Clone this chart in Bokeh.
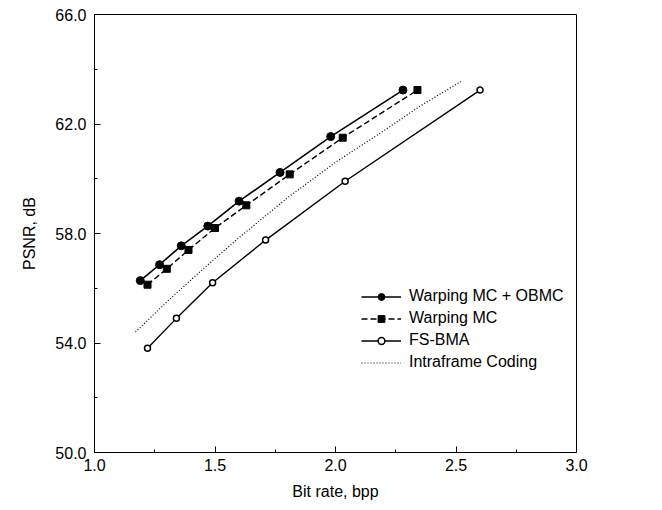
from bokeh.plotting import figure
from bokeh.models import FixedTicker, NumeralTickFormatter, Legend, LegendItem, Range1d
from bokeh.embed import file_html
from bokeh.resources import INLINE

# Data
obmc_x = [1.19, 1.27, 1.36, 1.47, 1.60, 1.77, 1.98, 2.28]
obmc_y = [56.28, 56.86, 57.55, 58.27, 59.18, 60.23, 61.54, 63.24]

wmc_x = [1.22, 1.30, 1.39, 1.50, 1.63, 1.81, 2.03, 2.34]
wmc_y = [56.13, 56.71, 57.40, 58.20, 59.03, 60.16, 61.50, 63.24]

fsbma_x = [1.22, 1.34, 1.49, 1.71, 2.04, 2.60]
fsbma_y = [53.81, 54.90, 56.20, 57.76, 59.91, 63.24]

intra_x = [1.17, 1.30, 1.45, 1.60, 1.80, 2.00, 2.20, 2.35, 2.52]
intra_y = [54.40, 55.50, 56.70, 57.85, 59.30, 60.60, 61.75, 62.65, 63.55]

x_ticks = [1.0, 1.5, 2.0, 2.5, 3.0]
x_minor = [1.25, 1.75, 2.25, 2.75]
y_ticks = [50.0, 54.0, 58.0, 62.0, 66.0]
y_minor = [52.0, 56.0, 60.0, 64.0]

labels = ["Warping MC + OBMC", "Warping MC", "FS-BMA", "Intraframe Coding"]

FONT = "Liberation Sans"

p = figure(width=646, height=502, output_backend="svg", toolbar_location=None,
           x_range=Range1d(1.0, 3.0), y_range=Range1d(50.0, 66.0),
           min_border_left=94, min_border_right=70, min_border_top=14, min_border_bottom=40)

p.xgrid.visible = False
p.ygrid.visible = False
p.outline_line_color = "black"
p.outline_line_width = 1
p.background_fill_color = "white"
p.border_fill_color = "white"

p.xaxis.ticker = FixedTicker(ticks=x_ticks, minor_ticks=x_minor)
p.yaxis.ticker = FixedTicker(ticks=y_ticks, minor_ticks=y_minor)
p.xaxis.formatter = NumeralTickFormatter(format="0.0")
p.yaxis.formatter = NumeralTickFormatter(format="0.0")
for ax in (p.xaxis, p.yaxis):
    ax.major_tick_in = 6
    ax.major_tick_out = 0
    ax.minor_tick_in = 3
    ax.minor_tick_out = 0
    ax.axis_line_color = "black"
    ax.major_tick_line_color = "black"
    ax.minor_tick_line_color = "black"
    ax.major_label_text_font = FONT
    ax.major_label_text_font_size = "16px"
    ax.major_label_text_color = "black"
    ax.axis_label_text_font = FONT
    ax.axis_label_text_font_size = "16px"
    ax.axis_label_text_font_style = "normal"
    ax.axis_label_text_color = "black"
p.xaxis.axis_label = "Bit rate, bpp"
p.yaxis.axis_label = "PSNR, dB"
p.xaxis.major_label_standoff = 6
p.yaxis.major_label_standoff = 8
p.yaxis.axis_label_standoff = 14
p.xaxis.axis_label_standoff = 9

l1 = p.line(obmc_x, obmc_y, line_color="black", line_width=1.6)
s1 = p.scatter(obmc_x, obmc_y, marker="circle", size=8, fill_color="black", line_color="black")

l2 = p.line(wmc_x, wmc_y, line_color="black", line_width=1.4, line_dash="6 3")
s2 = p.scatter(wmc_x, wmc_y, marker="square", size=7, fill_color="black", line_color="black")

l3 = p.line(fsbma_x, fsbma_y, line_color="black", line_width=1.4)
s3 = p.scatter(fsbma_x, fsbma_y, marker="circle", size=6, fill_color="white", line_color="black", line_width=1.5)

l4 = p.line(intra_x, intra_y, line_color="black", line_width=1.2, line_dash="1 2")

legend = Legend(items=[
    LegendItem(label=labels[0], renderers=[l1, s1]),
    LegendItem(label=labels[1], renderers=[l2, s2]),
    LegendItem(label=labels[2], renderers=[l3, s3]),
    LegendItem(label=labels[3], renderers=[l4]),
], location=(263, 77))
legend.border_line_alpha = 0
legend.background_fill_alpha = 0
legend.label_text_font = FONT
legend.label_text_font_size = "16px"
legend.label_text_color = "black"
legend.glyph_width = 40
legend.glyph_height = 17
legend.spacing = 4
legend.label_standoff = 8
legend.padding = 4
p.add_layout(legend, "center")

open("out.html", "w").write(file_html(p, INLINE))
